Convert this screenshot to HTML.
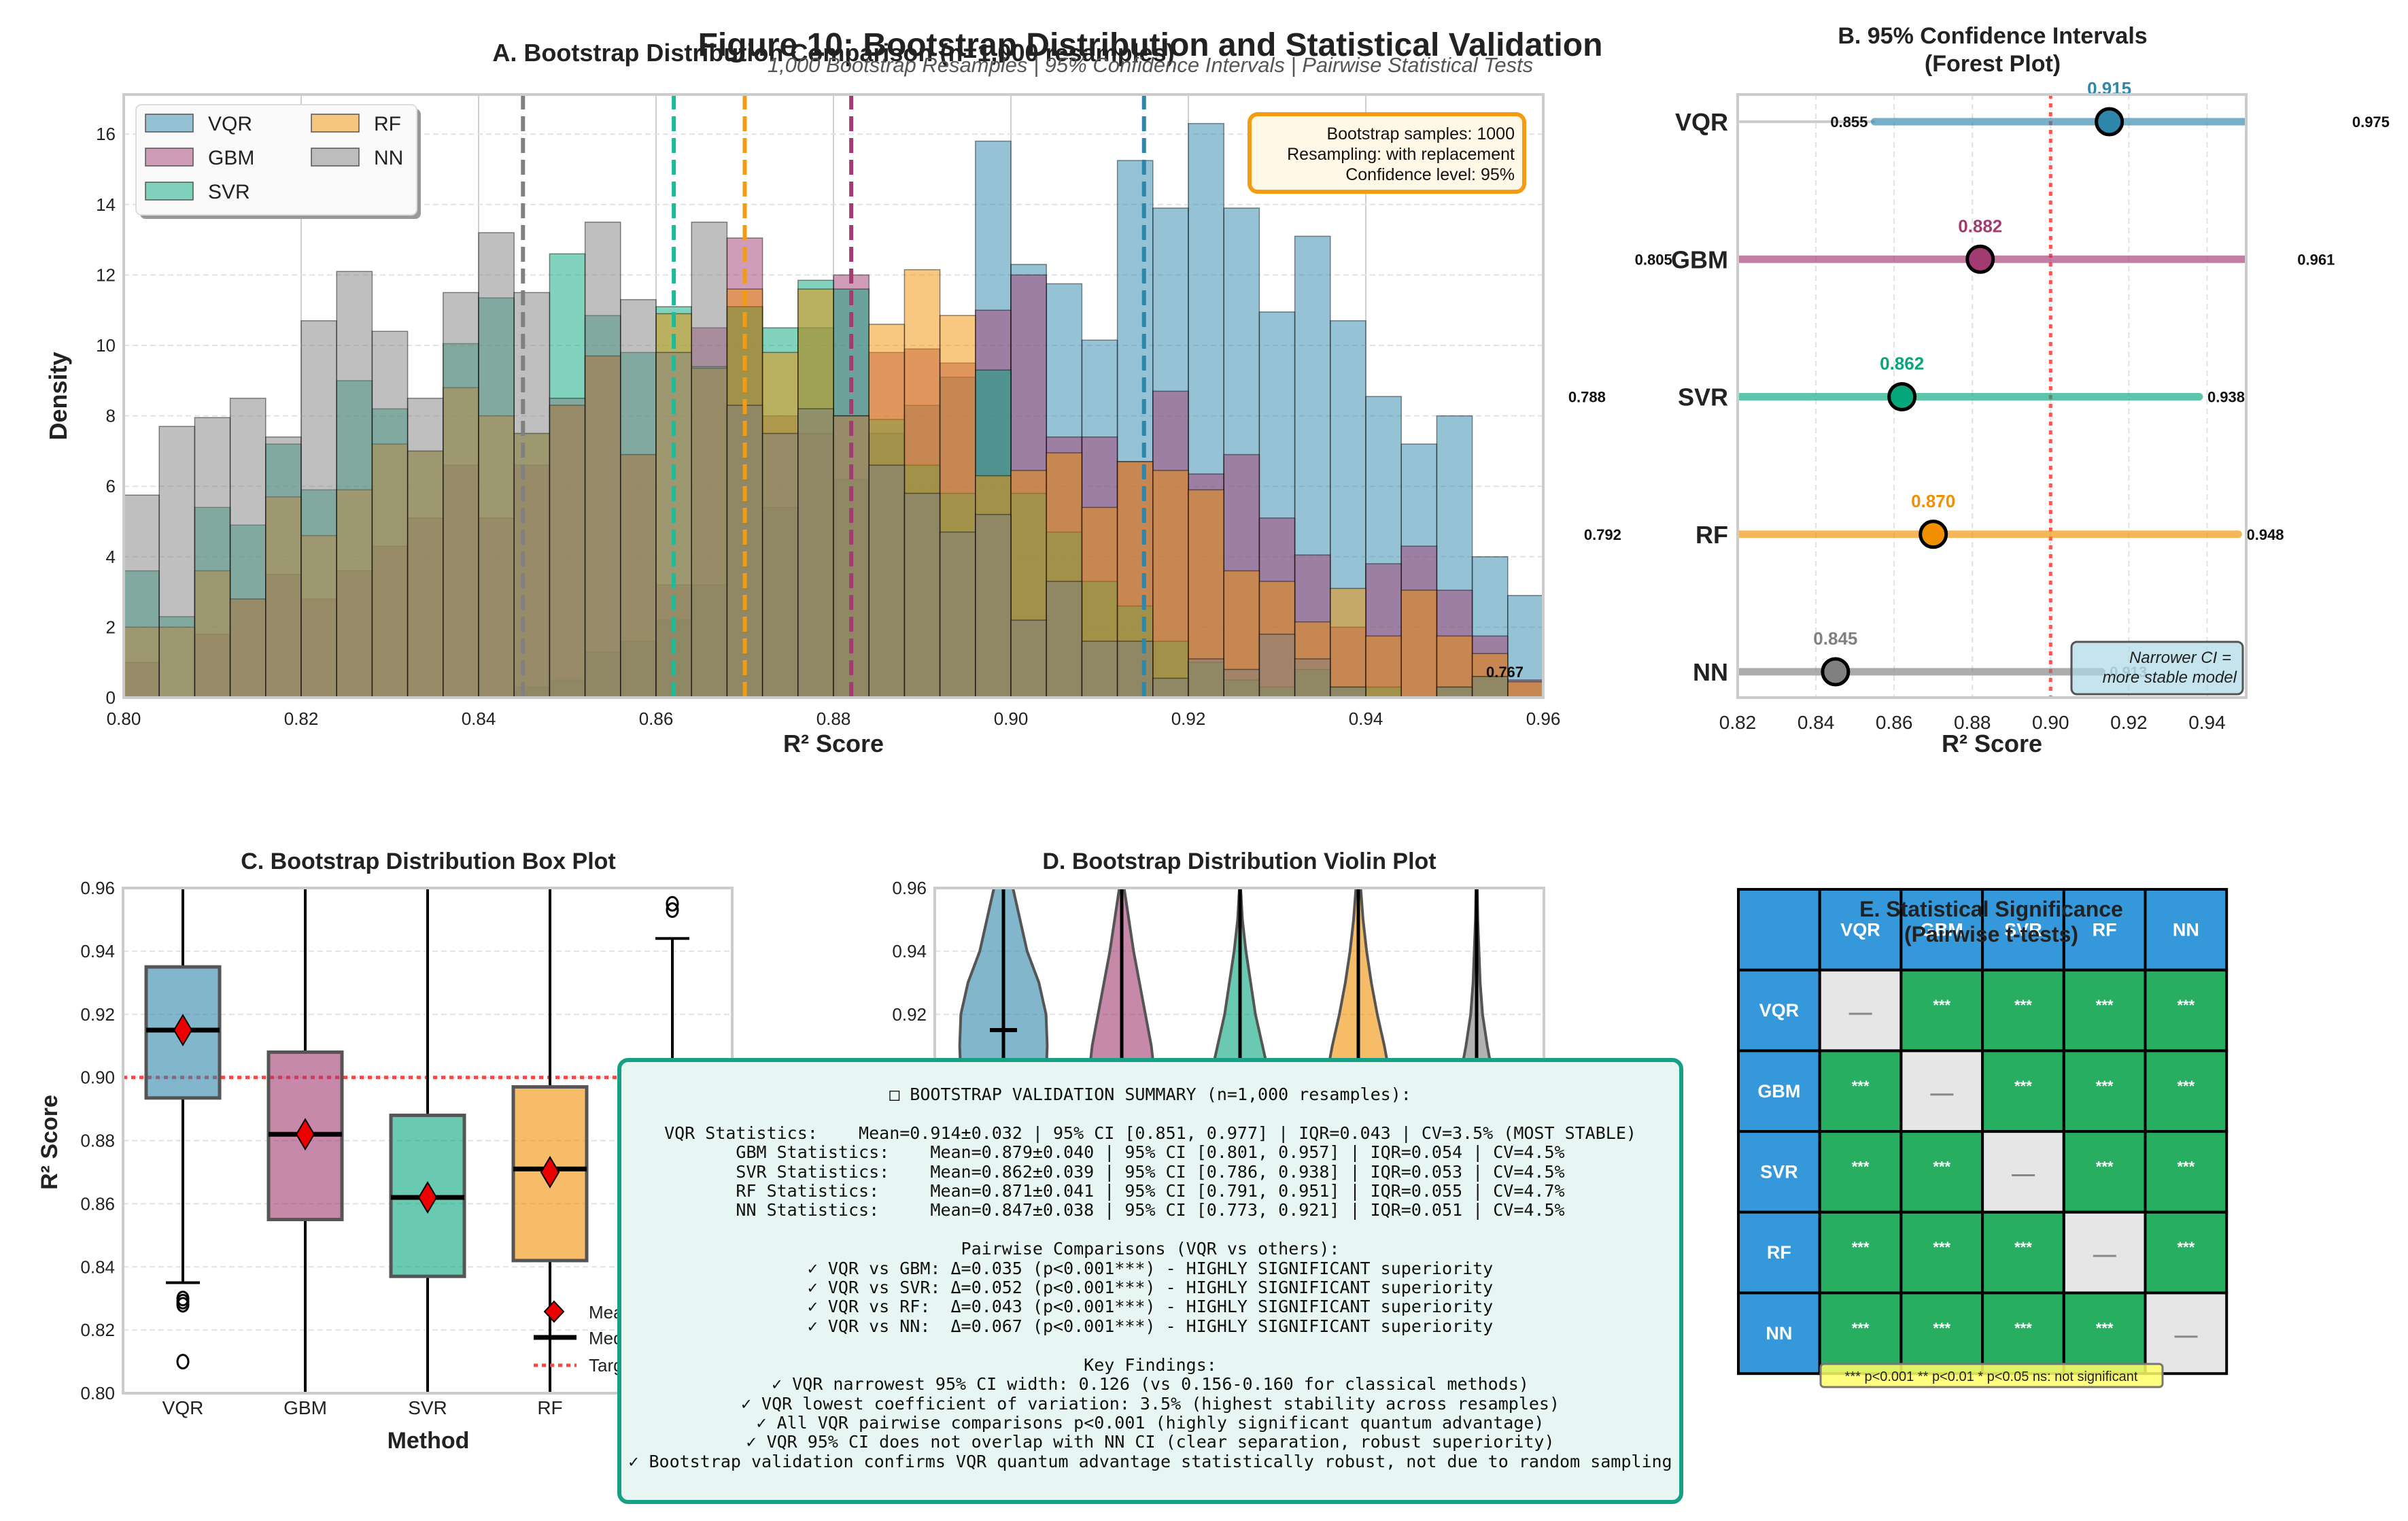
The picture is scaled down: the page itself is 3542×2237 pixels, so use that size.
<!DOCTYPE html>
<html><head><meta charset="utf-8"><style>
html,body{margin:0;padding:0;background:#fff;}
svg{display:block;font-family:"Liberation Sans",Arial,sans-serif;}
#summary{position:absolute;left:908px;top:1556px;width:1568px;height:656px;border:6px solid #16a085;border-radius:16px;background:#e8f6f3;box-sizing:border-box;font-family:"DejaVu Sans Mono","Liberation Mono",monospace;font-size:25px;line-height:28.4px;white-space:pre;text-align:center;color:#111;padding-top:34px;}
</style></head><body>
<div style="position:relative;width:3542px;height:2237px;overflow:hidden">
<svg id="fig" width="3542" height="2237" viewBox="0 0 3542 2237"></svg>
<div id="summary">□ BOOTSTRAP VALIDATION SUMMARY (n=1,000 resamples):

VQR Statistics:    Mean=0.914±0.032 | 95% CI [0.851, 0.977] | IQR=0.043 | CV=3.5% (MOST STABLE)
GBM Statistics:    Mean=0.879±0.040 | 95% CI [0.801, 0.957] | IQR=0.054 | CV=4.5%
SVR Statistics:    Mean=0.862±0.039 | 95% CI [0.786, 0.938] | IQR=0.053 | CV=4.5%
RF Statistics:     Mean=0.871±0.041 | 95% CI [0.791, 0.951] | IQR=0.055 | CV=4.7%
NN Statistics:     Mean=0.847±0.038 | 95% CI [0.773, 0.921] | IQR=0.051 | CV=4.5%

Pairwise Comparisons (VQR vs others):
✓ VQR vs GBM: Δ=0.035 (p&lt;0.001***) - HIGHLY SIGNIFICANT superiority
✓ VQR vs SVR: Δ=0.052 (p&lt;0.001***) - HIGHLY SIGNIFICANT superiority
✓ VQR vs RF:  Δ=0.043 (p&lt;0.001***) - HIGHLY SIGNIFICANT superiority
✓ VQR vs NN:  Δ=0.067 (p&lt;0.001***) - HIGHLY SIGNIFICANT superiority

Key Findings:
✓ VQR narrowest 95% CI width: 0.126 (vs 0.156-0.160 for classical methods)
✓ VQR lowest coefficient of variation: 3.5% (highest stability across resamples)
✓ All VQR pairwise comparisons p&lt;0.001 (highly significant quantum advantage)
✓ VQR 95% CI does not overlap with NN CI (clear separation, robust superiority)
✓ Bootstrap validation confirms VQR quantum advantage statistically robust, not due to random sampling</div>
</div>
<script>
// ---------- data ----------
const models = ["VQR","GBM","SVR","RF","NN"];
const colors = ["#2E86AB","#A23B72","#06A77D","#F18F01","#808080"];
const binStart = 0.80;
const binWidth = 0.004;
const histVQR = [0,0,0,0,0,0,0,0,0,0,0,0.3,0.5,1.3,1.6,2.2,3.2,11.1,5.4,10.5,6.2,7.5,8.3,9.1,15.8,12.3,11.75,10.15,15.25,13.9,16.3,13.9,10.95,13.1,10.7,8.55,7.2,8.0,4.0,2.9];
const histGBM = [1.0,0,1.8,2.8,3.5,2.8,3.6,4.3,5.1,6.6,5.1,6.6,8.3,9.7,6.9,3.2,10.5,13.05,8.0,7.5,12.0,9.8,9.9,9.5,11.0,12.0,7.4,7.4,6.7,8.7,6.35,6.9,5.1,4.05,2.0,3.8,4.3,3.05,1.75,0.5];
const histSVR = [3.6,2.3,5.4,4.9,7.2,5.9,9.0,8.2,7.0,10.05,11.35,7.5,12.6,10.85,9.8,11.1,9.4,11.1,10.5,11.85,11.6,7.9,6.6,5.8,9.3,5.8,4.7,3.3,2.6,1.6,1.0,0.5,0.3,0.8,0.3,0.3,0,0.3,0.6,0];
const histRF = [2.0,2.0,3.6,2.8,5.7,4.6,5.9,7.2,7.0,8.8,8.0,7.5,8.3,9.7,6.9,10.9,9.35,11.6,9.8,11.6,8.0,10.6,12.15,10.85,6.3,6.45,6.95,5.4,6.7,6.45,5.9,3.6,3.3,2.15,3.1,1.75,3.05,1.75,1.25,0.45];
const histNN = [5.75,7.7,7.95,8.5,7.4,10.7,12.1,10.4,8.5,11.5,13.2,11.5,8.5,13.5,11.3,9.8,13.5,8.3,7.5,8.2,8.0,6.6,5.8,4.7,5.2,2.2,3.3,1.6,1.6,0.55,1.1,0.8,1.8,1.1,0.3,0,0,0.3,0.6,0];
const means = [0.915,0.882,0.862,0.870,0.845];
const ciLow = [0.855,0.805,0.788,0.792,0.767];
const ciHigh = [0.975,0.961,0.938,0.948,0.913];
const boxQ1 = [0.8935,0.855,0.837,0.842,0.822];
const boxQ3 = [0.935,0.908,0.888,0.897,0.872];
const boxMed = [0.915,0.882,0.862,0.871,0.847];
const whiskLo = [0.835,0.79,0.79,0.79,0.79];
const whiskHi = [0.99,0.99,0.99,0.99,0.944];
const outliersVQR = [0.830,0.829,0.828,0.810];
const outliersNN = [0.955,0.953];
const violinLevels = [0.96,0.95,0.94,0.93,0.92,0.91,0.90,0.89,0.88,0.87,0.86,0.85,0.84,0.83,0.82,0.81,0.80];
const violinVQR = [0.08,0.14,0.2,0.3,0.36,0.37,0.36,0.34,0.3,0.25,0.2,0.15,0.1,0.07,0.04,0.02,0.01];
const violinGBM = [0.02,0.06,0.1,0.15,0.2,0.25,0.28,0.3,0.32,0.3,0.28,0.24,0.2,0.15,0.1,0.06,0.03];
const violinSVR = [0.005,0.02,0.05,0.09,0.13,0.19,0.25,0.3,0.33,0.35,0.36,0.33,0.28,0.2,0.13,0.08,0.04];
const violinRF = [0.02,0.04,0.07,0.11,0.16,0.22,0.27,0.31,0.33,0.34,0.32,0.28,0.23,0.17,0.11,0.07,0.04];
const violinNN = [0.005,0.01,0.02,0.03,0.05,0.09,0.14,0.2,0.26,0.32,0.35,0.36,0.33,0.27,0.2,0.13,0.08];
const sigMatrix = [["—","***","***","***","***"],["***","—","***","***","***"],["***","***","—","***","***"],["***","***","***","—","***"],["***","***","***","***","—"]];

// ---------- helpers ----------
const NS="http://www.w3.org/2000/svg";
const svg=document.getElementById('fig');
function mk(tag,attrs,parent,txt){const e=document.createElementNS(NS,tag);for(const k in attrs)e.setAttribute(k,attrs[k]);if(txt!==undefined)e.textContent=txt;(parent||svg).appendChild(e);return e;}
const defs=mk('defs',{});
function clip(id,x,y,w,h){const c=mk('clipPath',{id:id},defs);mk('rect',{x:x,y:y,width:w,height:h},c);}

// ---------- titles ----------
let t;
t=mk('text',{x:1226,y:90,'text-anchor':'middle','font-size':36,'font-weight':'bold',fill:'#222'},svg,'A. Bootstrap Distribution Comparison (n=1,000 resamples)');

t=mk('text',{x:1692,y:82,'text-anchor':'middle','font-size':48,'font-weight':'bold',fill:'#222'},svg,'Figure 10: Bootstrap Distribution and Statistical Validation');

t=mk('text',{x:1692,y:106,'text-anchor':'middle','font-size':31,'font-style':'italic',fill:'#555'},svg,'1,000 Bootstrap Resamples | 95% Confidence Intervals | Pairwise Statistical Tests');


// ---------- Panel A ----------
const AL=182,AR=2270,AT=139,AB=1026;
const xA=v=>AL+(v-0.8)/0.16*(AR-AL);
const yA=v=>AB-v*51.8;
clip('clipA',AL,AT,AR-AL,AB-AT);
const gA=mk('g',{});

mk('rect',{x:AL,y:AT,width:AR-AL,height:AB-AT,fill:'#fff'},gA);
for(let v=0.80;v<=0.9601;v+=0.02){const x=xA(v);
 const gl=mk('line',{x1:x,x2:x,y1:AT,y2:AB,stroke:'#cfcfcf','stroke-width':2},gA);
 const tl=mk('text',{x:x,y:AB+40,'text-anchor':'middle','font-size':26,fill:'#222'},gA,v.toFixed(2));}
for(let v=0;v<=16;v+=2){const y=yA(v);
 const gl=mk('line',{x1:AL,x2:AR,y1:y,y2:y,stroke:'#e2e2e2','stroke-width':2,'stroke-dasharray':'8,5'},gA);
 const tl=mk('text',{x:AL-12,y:y+9,'text-anchor':'end','font-size':26,fill:'#222'},gA,String(v));}
const hists=[histVQR,histGBM,histSVR,histRF,histNN];
const gBars=mk('g',{'clip-path':'url(#clipA)'},gA);
hists.forEach((h,m)=>{h.forEach((v,i)=>{if(v<=0)return;
 const x0=xA(binStart+i*binWidth),x1=xA(binStart+(i+1)*binWidth);
 const r=mk('rect',{x:x0,y:yA(v),width:x1-x0,height:AB-yA(v),fill:colors[m],'fill-opacity':0.5,stroke:'#000','stroke-opacity':0.45,'stroke-width':1.5},gBars);
 
 });});
const meanLineColors=["#2E86AB","#A23B72","#1abc9c","#F39C12","#808080"];
means.forEach((v,m)=>{const l=mk('line',{x1:xA(v),x2:xA(v),y1:AT,y2:AB,stroke:meanLineColors[m],'stroke-width':6,'stroke-dasharray':'22,10'},gBars);
 });
mk('rect',{x:AL,y:AT,width:AR-AL,height:AB-AT,fill:'none',stroke:'#cccccc','stroke-width':4},gA);
t=mk('text',{x:(AL+AR)/2,y:1106,'text-anchor':'middle','font-size':36,'font-weight':'bold',fill:'#222'},gA,'R² Score');
t=mk('text',{x:98,y:(AT+AB)/2,'text-anchor':'middle','font-size':36,'font-weight':'bold',fill:'#222',transform:'rotate(-90 98 '+(AT+AB)/2+')'},gA,'Density');
// legend
const lg=mk('g',{});
mk('rect',{x:206,y:160,width:413,height:162,rx:8,fill:'#999'},lg);
mk('rect',{x:200,y:154,width:413,height:162,rx:8,fill:'#fafafa',stroke:'#ddd','stroke-width':2},lg);
const legPos=[[214,182],[214,232],[214,282],[458,182],[458,232]];
models.forEach((n,m)=>{const p=legPos[m];
 const e=mk('g',{},lg);
 mk('rect',{x:p[0],y:p[1]-14,width:70,height:26,fill:colors[m],'fill-opacity':0.5,stroke:'#555','stroke-width':1.5},e);
 mk('text',{x:p[0]+92,y:p[1]+10,'font-size':30,fill:'#222'},e,n);});
// info box
const ib=mk('g',{});
mk('rect',{x:1838,y:168,width:404,height:114,rx:12,fill:'#fff8e6',stroke:'#f39c12','stroke-width':6},ib);
["Bootstrap samples: 1000","Resampling: with replacement","Confidence level: 95%"].forEach((s,i)=>mk('text',{x:2228,y:205+i*30,'text-anchor':'end','font-size':25,fill:'#111'},ib,s));

// ---------- Panel B ----------
const BL=2556,BR=3304,BT=139,BB=1026;
const xB=v=>BL+(v-0.82)/0.13*(BR-BL);
const yB=i=>179+i*202.25;
clip('clipB',BL,BT,BR-BL,BB-BT);
const gB=mk('g',{});
t=mk('text',{x:2931,y:64,'text-anchor':'middle','font-size':34,'font-weight':'bold',fill:'#222'},gB,'B. 95% Confidence Intervals');
t=mk('text',{x:2931,y:105,'text-anchor':'middle','font-size':34,'font-weight':'bold',fill:'#222'},gB,'(Forest Plot)');
for(let v=0.82;v<=0.9401;v+=0.02){const x=xB(v);
 const gl=mk('line',{x1:x,x2:x,y1:BT,y2:BB,stroke:'#e2e2e2','stroke-width':2,'stroke-dasharray':'8,6'},gB);
 const tl=mk('text',{x:x,y:BB+46,'text-anchor':'middle','font-size':28,fill:'#222'},gB,v.toFixed(2));}
const gBc=mk('g',{'clip-path':'url(#clipB)'},gB);
mk('line',{x1:BL,x2:xB(ciLow[0]),y1:yB(0),y2:yB(0),stroke:'#cccccc','stroke-width':4},gBc);
const tgt=mk('line',{x1:xB(0.9),x2:xB(0.9),y1:BT,y2:BB,stroke:'#ff5555','stroke-width':5,'stroke-dasharray':'6,7'},gBc);
models.forEach((n,i)=>{const y=yB(i);
 const l=mk('line',{x1:xB(ciLow[i]),x2:xB(ciHigh[i]),y1:y,y2:y,stroke:colors[i],'stroke-opacity':0.65,'stroke-width':11,'stroke-linecap':'round'},gBc);
 });
models.forEach((n,i)=>{const y=yB(i);
 const c=mk('circle',{cx:xB(means[i]),cy:y,r:19,fill:colors[i],stroke:'#000','stroke-width':5},gB);
 
 const ml=mk('text',{x:xB(means[i]),y:y-40,'text-anchor':'middle','font-size':26,'font-weight':'bold',fill:colors[i]},gB,means[i].toFixed(3));
 
 const lo=mk('text',{x:xB(ciLow[i])-10,y:y+8,'text-anchor':'end','font-size':22,'font-weight':'bold',fill:'#111'},gB,ciLow[i].toFixed(3));
 
 const hi=mk('text',{x:xB(ciHigh[i])+12,y:y+8,'font-size':22,'font-weight':'bold',fill:i==4?'#9aa':'#111'},gB,ciHigh[i].toFixed(3));
 
 const yl=mk('text',{x:BL-14,y:y+13,'text-anchor':'end','font-size':36,'font-weight':'bold',fill:'#222'},gB,n);
 });
mk('rect',{x:BL,y:BT,width:BR-BL,height:BB-BT,fill:'none',stroke:'#cccccc','stroke-width':4},gB);
const nb=mk('g',{},gB);
mk('rect',{x:3047,y:944,width:252,height:77,rx:8,fill:'#add8e6','fill-opacity':0.7,stroke:'#555','stroke-width':3},nb);
mk('text',{x:3282,y:975,'text-anchor':'end','font-size':24,'font-style':'italic',fill:'#222'},nb,'Narrower CI =');
mk('text',{x:3290,y:1004,'text-anchor':'end','font-size':24,'font-style':'italic',fill:'#222'},nb,'more stable model');
t=mk('text',{x:(BL+BR)/2,y:1106,'text-anchor':'middle','font-size':36,'font-weight':'bold',fill:'#222'},gB,'R² Score');

// ---------- Panel C ----------
const CL=181,CR=1077,CT=1306,CB=2049;
const xC=i=>269+i*180;
const yC=v=>CB-(v-0.8)/0.16*(CB-CT);
clip('clipC',CL,CT,CR-CL,CB-CT);
const gC=mk('g',{});
t=mk('text',{x:630,y:1278,'text-anchor':'middle','font-size':34,'font-weight':'bold',fill:'#222'},gC,'C. Bootstrap Distribution Box Plot');
for(let v=0.80;v<=0.9601;v+=0.02){const y=yC(v);
 const gl=mk('line',{x1:CL,x2:CR,y1:y,y2:y,stroke:'#e2e2e2','stroke-width':2,'stroke-dasharray':'8,5'},gC);
 const tl=mk('text',{x:CL-12,y:y+9,'text-anchor':'end','font-size':26,fill:'#222'},gC,v.toFixed(2));}
const gCc=mk('g',{'clip-path':'url(#clipC)'},gC);
mk('line',{x1:CL,x2:CR,y1:yC(0.9),y2:yC(0.9),stroke:'#ff4444','stroke-width':5,'stroke-dasharray':'6,6'},gCc);
models.forEach((n,i)=>{const x=xC(i),hw=54;
 const g=mk('g',{},gCc);
 mk('line',{x1:x,x2:x,y1:yC(whiskHi[i]),y2:yC(boxQ3[i]),stroke:'#000','stroke-width':4},g);
 mk('line',{x1:x,x2:x,y1:yC(boxQ1[i]),y2:yC(whiskLo[i]),stroke:'#000','stroke-width':4},g);
 mk('line',{x1:x-25,x2:x+25,y1:yC(whiskLo[i]),y2:yC(whiskLo[i]),stroke:'#000','stroke-width':4},g);
 mk('line',{x1:x-25,x2:x+25,y1:yC(whiskHi[i]),y2:yC(whiskHi[i]),stroke:'#000','stroke-width':4},g);
 mk('rect',{x:x-hw,y:yC(boxQ3[i]),width:2*hw,height:yC(boxQ1[i])-yC(boxQ3[i]),fill:colors[i],'fill-opacity':0.6,stroke:'#555','stroke-width':5},g);
 mk('line',{x1:x-hw,x2:x+hw,y1:yC(boxMed[i]),y2:yC(boxMed[i]),stroke:'#000','stroke-width':7},g);
 const d=mk('path',{d:`M${x} ${yC(means[i])-22} L${x+13} ${yC(means[i])} L${x} ${yC(means[i])+22} L${x-13} ${yC(means[i])} Z`,fill:'#ee0000',stroke:'#000','stroke-width':2},g);
 
 const tl=mk('text',{x:x,y:2080,'text-anchor':'middle','font-size':28,fill:'#222'},gC,n);});
outliersVQR.forEach(v=>{const o=mk('ellipse',{cx:xC(0),cy:yC(v),rx:8,ry:10,fill:'none',stroke:'#000','stroke-width':3},gCc);});
outliersNN.forEach(v=>{const o=mk('ellipse',{cx:xC(4),cy:yC(v),rx:8,ry:10,fill:'none',stroke:'#000','stroke-width':3},gCc);});
mk('rect',{x:CL,y:CT,width:CR-CL,height:CB-CT,fill:'none',stroke:'#cccccc','stroke-width':4},gC);
const lc=mk('g',{},gC);
mk('path',{d:'M815 1914 L829 1929 L815 1944 L801 1929 Z',fill:'#ee0000',stroke:'#000','stroke-width':2},lc);
mk('text',{x:866,y:1939,'font-size':26,fill:'#222'},lc,'Mean');
mk('line',{x1:785,x2:848,y1:1967,y2:1967,stroke:'#000','stroke-width':7},lc);
mk('text',{x:866,y:1977,'font-size':26,fill:'#222'},lc,'Median');
mk('line',{x1:785,x2:848,y1:2008,y2:2008,stroke:'#ff4444','stroke-width':5,'stroke-dasharray':'6,6'},lc);
mk('text',{x:866,y:2017,'font-size':26,fill:'#222'},lc,'Target');
t=mk('text',{x:630,y:2130,'text-anchor':'middle','font-size':34,'font-weight':'bold',fill:'#222'},gC,'Method');
t=mk('text',{x:84,y:1680,'text-anchor':'middle','font-size':34,'font-weight':'bold',fill:'#222',transform:'rotate(-90 84 1680)'},gC,'R² Score');

// ---------- Panel D ----------
const DL=1375,DR=2271,DT=1306,DB=2049;
const xD=i=>1476+i*174;
const yD=v=>DB-(v-0.8)/0.16*(DB-DT);
clip('clipD',DL,DT,DR-DL,DB-DT);
const gD=mk('g',{});
t=mk('text',{x:1823,y:1278,'text-anchor':'middle','font-size':34,'font-weight':'bold',fill:'#222'},gD,'D. Bootstrap Distribution Violin Plot');
for(let v=0.80;v<=0.9601;v+=0.02){const y=yD(v);
 const gl=mk('line',{x1:DL,x2:DR,y1:y,y2:y,stroke:'#e2e2e2','stroke-width':2,'stroke-dasharray':'8,5'},gD);
 const tl=mk('text',{x:DL-12,y:y+9,'text-anchor':'end','font-size':26,fill:'#222'},gD,v.toFixed(2));}
const gDc=mk('g',{'clip-path':'url(#clipD)'},gD);
const violins=[violinVQR,violinGBM,violinSVR,violinRF,violinNN];
violins.forEach((w,i)=>{const x=xD(i);
 let d='M'+x+' '+(yD(violinLevels[0])-30);
 violinLevels.forEach((v,k)=>{d+=' L'+(x+w[k]*174)+' '+yD(v);});
 for(let k=violinLevels.length-1;k>=0;k--){d+=' L'+(x-w[k]*174)+' '+yD(violinLevels[k]);}
 d+=' Z';
 const p=mk('path',{d:d,fill:colors[i],'fill-opacity':0.6,stroke:'#555','stroke-width':4},gDc);
 
 mk('line',{x1:x,x2:x,y1:DT,y2:DB,stroke:'#000','stroke-width':5},gDc);
 mk('line',{x1:x-20,x2:x+20,y1:yD(boxMed[i]),y2:yD(boxMed[i]),stroke:'#000','stroke-width':6},gDc);});
mk('rect',{x:DL,y:DT,width:DR-DL,height:DB-DT,fill:'none',stroke:'#cccccc','stroke-width':4},gD);

// ---------- Panel E ----------
const EL=2557,ET=1308,CW=119.7,RH=118.7;
const gE=mk('g',{});
for(let r=0;r<6;r++)for(let c=0;c<6;c++){
 let fill='#3498db',txt='',tc='#fff',fs=27;
 if(r==0&&c>0)txt=models[c-1];
 else if(c==0&&r>0)txt=models[r-1];
 else if(r>0&&c>0){txt=sigMatrix[r-1][c-1];if(txt==='—'){fill='#e6e6e6';tc='#888';}else{fill='#27ae60';fs=22;}}
 const cell=mk('g',{},gE);
 mk('rect',{x:EL+c*CW,y:ET+r*RH,width:CW,height:RH,fill:fill,stroke:'#000','stroke-width':4},cell);
 if(txt==='—')mk('line',{x1:EL+c*CW+43,x2:EL+c*CW+77,y1:ET+r*RH+RH/2+5,y2:ET+r*RH+RH/2+5,stroke:'#888','stroke-width':3},cell);
 else if(txt)mk('text',{x:EL+c*CW+CW/2,y:ET+r*RH+RH/2+(fs==22?0:9),'text-anchor':'middle','font-size':fs,'font-weight':'bold',fill:tc},cell,txt);}
t=mk('text',{x:2929,y:1348,'text-anchor':'middle','font-size':32,'font-weight':'bold',fill:'#222'},gE,'E. Statistical Significance');
t=mk('text',{x:2929,y:1385,'text-anchor':'middle','font-size':32,'font-weight':'bold',fill:'#222'},gE,'(Pairwise t-tests)');
const sl=mk('g',{},gE);
mk('rect',{x:2678,y:2006,width:503,height:34,rx:5,fill:'#ffff66','fill-opacity':0.85,stroke:'#777','stroke-width':3},sl);
mk('text',{x:2929,y:2031,'text-anchor':'middle','font-size':20,fill:'#222'},sl,'*** p<0.001  ** p<0.01  * p<0.05  ns: not significant');
</script>
</body></html>
